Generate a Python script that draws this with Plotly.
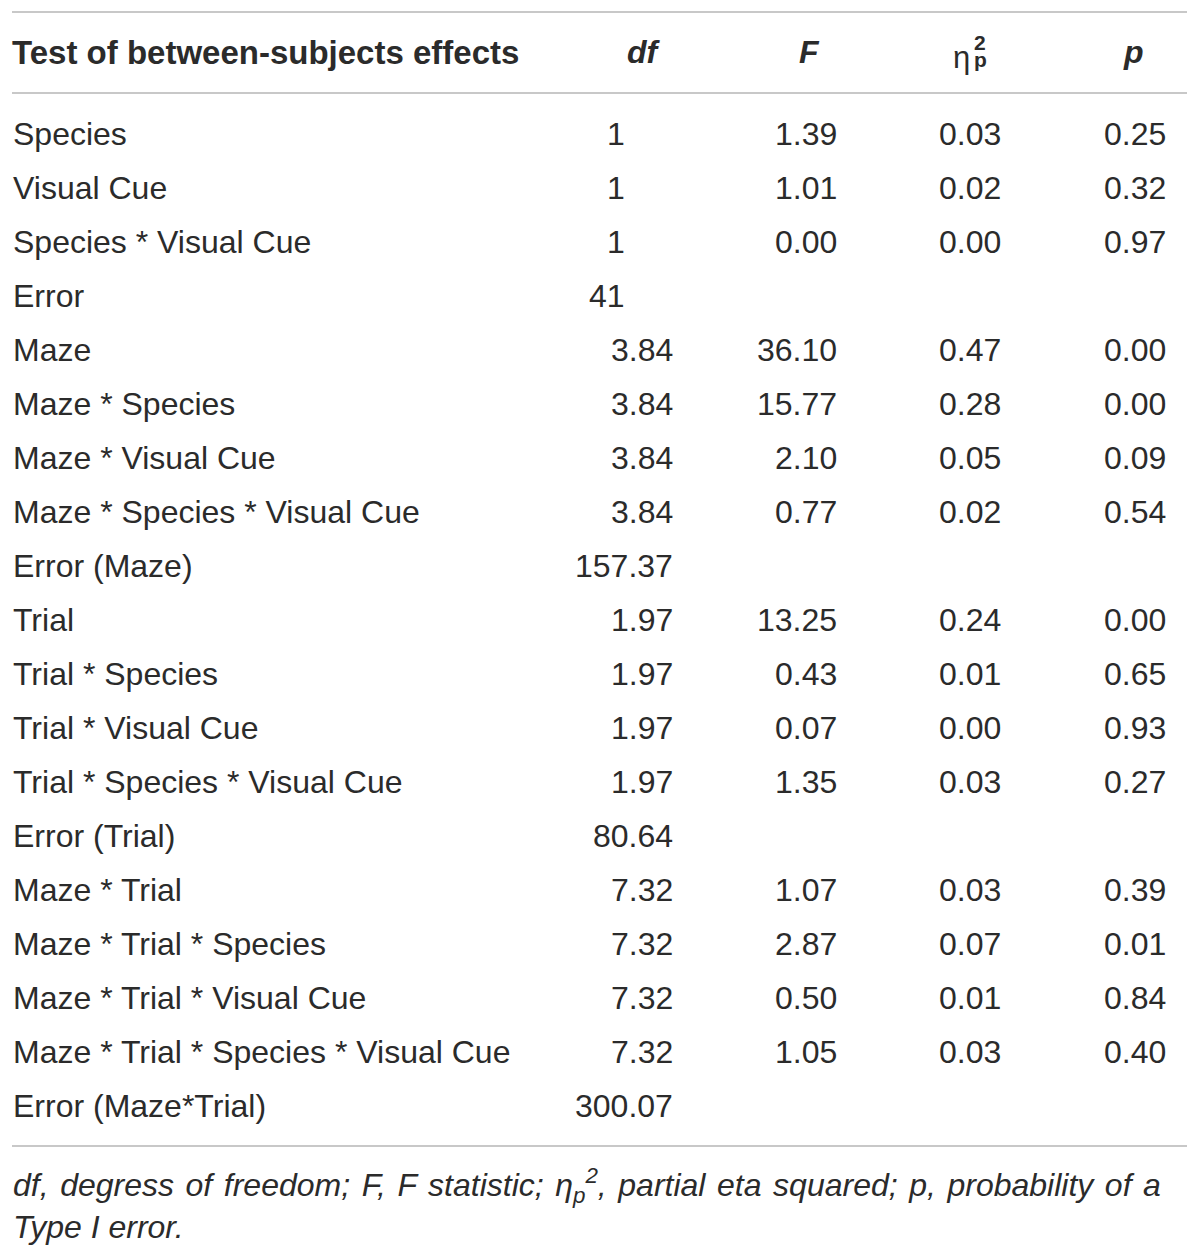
import plotly.graph_objects as go

# ---------------------------------------------------------------------------
# Table data
# ---------------------------------------------------------------------------
effects = [
    'Species', 'Visual Cue', 'Species * Visual Cue', 'Error',
    'Maze', 'Maze * Species', 'Maze * Visual Cue', 'Maze * Species * Visual Cue',
    'Error (Maze)',
    'Trial', 'Trial * Species', 'Trial * Visual Cue', 'Trial * Species * Visual Cue',
    'Error (Trial)',
    'Maze * Trial', 'Maze * Trial * Species', 'Maze * Trial * Visual Cue',
    'Maze * Trial * Species * Visual Cue', 'Error (Maze*Trial)',
]
df_vals = ['1', '1', '1', '41', '3.84', '3.84', '3.84', '3.84', '157.37',
           '1.97', '1.97', '1.97', '1.97', '80.64', '7.32', '7.32', '7.32', '7.32', '300.07']
f_vals = ['1.39', '1.01', '0.00', '', '36.10', '15.77', '2.10', '0.77', '',
          '13.25', '0.43', '0.07', '1.35', '', '1.07', '2.87', '0.50', '1.05', '']
eta_vals = ['0.03', '0.02', '0.00', '', '0.47', '0.28', '0.05', '0.02', '',
            '0.24', '0.01', '0.00', '0.03', '', '0.03', '0.07', '0.01', '0.03', '']
p_vals = ['0.25', '0.32', '0.97', '', '0.00', '0.00', '0.09', '0.54', '',
          '0.00', '0.65', '0.93', '0.27', '', '0.39', '0.01', '0.84', '0.40', '']

header_label = 'Test of between-subjects effects'
footnote_1 = ('df, degress of freedom; F, F statistic; '
              'η<sub>p</sub><sup>2</sup>, partial eta squared; p, probability of a')
footnote_2 = 'Type I error.'

# ---------------------------------------------------------------------------
# Layout constants (pixel units on the 1200 x 1259 page, body margin 8px)
# ---------------------------------------------------------------------------
PAGE_W, PAGE_H, PAD = 1200, 1259, 8
FONT = 'Liberation Sans'
TXT = '#2b2b2b'
LINE = '#c8c8c8'
SIZE = 32

x_left, x_right = 12, 1187
header_y = 52
row0_y, row_step = 134, 54
col_right = {'df': 675, 'F': 839, 'eta': 1003, 'p': 1168}
df_int_right = 627

annotations = []


def _txt(x, y, text, anchor='left', size=SIZE, color=TXT):
    annotations.append(dict(
        x=x, y=y, xref='x', yref='y', text=text, showarrow=False,
        xanchor=anchor, yanchor='middle',
        font=dict(family=FONT, size=size, color=color),
    ))


# header
_txt(x_left - 2, header_y, f'<b>{header_label}</b>', size=33)
_txt(644, header_y, '<b><i>df</i></b>', anchor='center', size=32)
_txt(809, header_y, '<b><i>F</i></b>', anchor='center', size=32)
_txt(961, header_y + 5, 'η', anchor='center', size=31)
_txt(980, header_y - 10, '<b>2</b>', anchor='center', size=21)
_txt(980, header_y + 7, '<b>p</b>', anchor='center', size=21)
_txt(1133, header_y, '<b><i>p</i></b>', anchor='center', size=32)

# body rows
for i, name in enumerate(effects):
    y = row0_y + i * row_step
    _txt(x_left - 1, y, name)
    d = df_vals[i]
    _txt(df_int_right if '.' not in d else col_right['df'], y, d, anchor='right')
    for key, vals in (('F', f_vals), ('eta', eta_vals), ('p', p_vals)):
        if vals[i]:
            _txt(col_right[key], y, vals[i], anchor='right')

# footnote (first line stretched a little, like the justified original)
last_y = row0_y + (len(effects) - 1) * row_step
rule_bottom = last_y + 40
_txt(x_left - 1, rule_bottom + 39, '<i>' + footnote_1.replace(' ', ' \u200a') + '</i>', size=32)
_txt(x_left - 1, rule_bottom + 81, f'<i>{footnote_2}</i>', size=32)

# horizontal rules
shapes = [
    dict(type='line', xref='x', yref='y', x0=x_left, x1=x_right, y0=yy, y1=yy,
         line=dict(color=LINE, width=2))
    for yy in (12, 93, rule_bottom)
]

fig = go.Figure()
fig.update_layout(
    width=PAGE_W - 2 * PAD, height=PAGE_H - 2 * PAD,
    margin=dict(l=0, r=0, t=0, b=0),
    plot_bgcolor='white', paper_bgcolor='white',
    showlegend=False,
    xaxis=dict(range=[PAD, PAGE_W - PAD], visible=False, fixedrange=True),
    yaxis=dict(range=[PAGE_H - PAD, PAD], visible=False, fixedrange=True),
    annotations=annotations,
    shapes=shapes,
)
fig.write_html('out.html')
